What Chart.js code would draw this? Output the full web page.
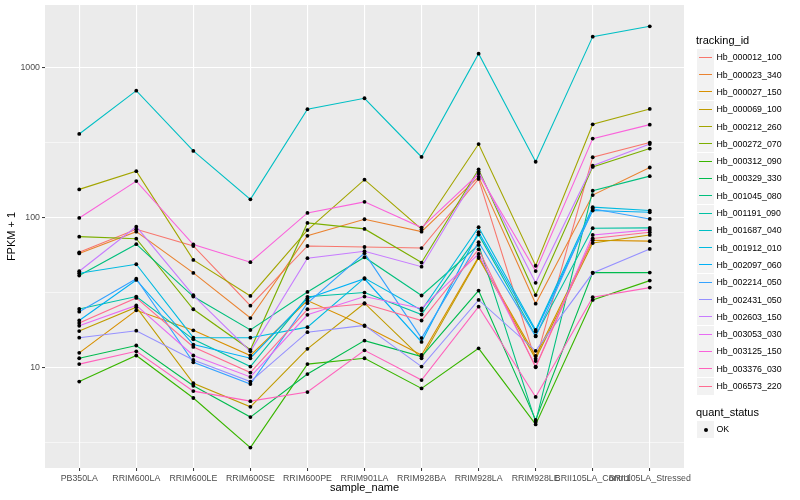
<!DOCTYPE html>
<html>
<head>
<meta charset="utf-8">
<script src="https://cdn.jsdelivr.net/npm/chart.js@4.4.1/dist/chart.umd.min.js"></script>
<style>
  body { margin: 0; background: #fff; font-family: "Liberation Sans", Arial, sans-serif; }
  #wrap { position: relative; width: 800px; height: 500px; }
  .lg { position: absolute; white-space: nowrap; color: #000; }
  .lg-title { font-size: 11px; line-height: 13px; }
  .lg-key { position: absolute; width: 17px; height: 17px; background: #f2f2f2; }
  .lg-line { position: absolute; left: 2px; width: 13px; top: 8px; height: 1px; }
  .lg-dot { position: absolute; left: 6.5px; top: 6.5px; width: 4px; height: 4px; border-radius: 50%; background: #000; }
  .lg-text { font-size: 8.8px; line-height: 10px; }
</style>
</head>
<body>
<div id="wrap">
  <canvas id="chart" width="800" height="500"></canvas>
  <div id="legend"></div>
</div>
<script>
// samples on the x axis
const sampleNames = ["PB350LA", "RRIM600LA", "RRIM600LE", "RRIM600SE", "RRIM600PE", "RRIM901LA",
  "RRIM928BA", "RRIM928LA", "RRIM928LE", "BRII105LA_Control", "BRII105LA_Stressed"];

const trackingIds = ["Hb_000012_100", "Hb_000023_340", "Hb_000027_150", "Hb_000069_100", "Hb_000212_260",
  "Hb_000272_070", "Hb_000312_090", "Hb_000329_330", "Hb_001045_080", "Hb_001191_090", "Hb_001687_040",
  "Hb_001912_010", "Hb_002097_060", "Hb_002214_050", "Hb_002431_050", "Hb_002603_150", "Hb_003053_030",
  "Hb_003125_150", "Hb_003376_030", "Hb_006573_220"];

// ggplot default hue palette for 20 groups
const seriesColors = ["#F8766D", "#EA8331", "#D89000", "#C09B00", "#A3A500", "#7CAE00", "#39B600",
  "#00BB4E", "#00BF7D", "#00C1A3", "#00BFC4", "#00BAE0", "#00B0F6", "#35A2FF", "#9590FF", "#C77CFF",
  "#E76BF3", "#FA62DB", "#FF62BC", "#FF6C91"];

// FPKM + 1, one value per sample
const hb000012 = [59, 84, 65, 26, 65, 64, 63, 182, 11.1, 254, 318];
const hb000023 = [58, 81, 43, 21.5, 76, 98, 81, 188, 26.8, 142, 217];
const hb000027 = [12.6, 24.2, 17.8, 12.1, 28.1, 19.0, 12.2, 55, 12.0, 71, 70];
const hb000069 = [17.6, 25.4, 7.9, 5.5, 13.4, 27, 11.6, 54, 11.5, 68, 77];
const hb000212 = [155, 205, 52.5, 30.2, 83, 180, 84, 311, 48, 421, 533];
const hb000272 = [75, 72.7, 24.6, 13.2, 92.6, 84.5, 50.4, 211, 30.6, 219, 290];
const hb000312 = [8.1, 12.1, 6.3, 2.94, 10.6, 11.6, 7.3, 13.5, 4.2, 28.4, 38.2];
const hb000329 = [11.6, 14.1, 7.6, 4.7, 9.1, 15.2, 11.9, 32.8, 4.5, 43.2, 43.2];
const hb001045 = [41.3, 66.8, 29.9, 17.9, 32.1, 54.7, 30.4, 66.1, 4.35, 152, 190];
const hb001191 = [24.7, 29.9, 15.5, 10.2, 29.8, 31.8, 22.7, 77.4, 16.4, 85.4, 85.8];
const hb001687 = [363, 706, 280, 133, 531, 628, 255, 1245, 237, 1618, 1896];
const hb001912 = [42.8, 49.1, 15.9, 15.9, 18.7, 39.7, 24.2, 86.7, 17.9, 118, 112];
const hb002097 = [20.7, 38.6, 14.3, 11.6, 29.0, 39.3, 14.9, 80.3, 17.5, 112, 109];
const hb002214 = [23.7, 39.3, 10.9, 7.8, 27, 58.2, 15.8, 68.9, 16.2, 115, 98.5];
const hb002431 = [15.9, 17.7, 11.3, 8.1, 17.3, 19.2, 10.2, 28.4, 13.0, 42.9, 62.1];
const hb002603 = [44.1, 87.5, 30.5, 12.9, 53.9, 60, 47.3, 204, 36.9, 223, 311];
const hb003053 = [19.1, 26.1, 12.1, 8.7, 22.6, 29.9, 24.9, 57.5, 10.2, 77, 83.2];
const hb003125 = [100, 176, 66.5, 50.7, 108, 128, 86.3, 197, 44.2, 338, 419];
const hb003376 = [10.6, 12.9, 7.0, 6.0, 6.9, 13.1, 8.3, 25.6, 6.4, 29.6, 34.3];
const hb006573 = [19.9, 29.3, 13.8, 9.3, 24.6, 26.8, 20.7, 61.8, 10.1, 73, 80.3];

const seriesValues = [hb000012, hb000023, hb000027, hb000069, hb000212, hb000272, hb000312, hb000329,
  hb001045, hb001191, hb001687, hb001912, hb002097, hb002214, hb002431, hb002603, hb003053, hb003125,
  hb003376, hb006573];

// y ticks: labelled decades plus ggplot minor breaks halfway in log space
const yMajor = [10, 100, 1000];
const yMinor = [3.1623, 31.623, 316.23];

const isMajor = (v) => yMajor.some((m) => Math.abs(m - v) < 1e-6);

// grey panel behind the grid
const panelBg = {
  id: "panelBg",
  beforeDraw(chart) {
    const { ctx, chartArea: a } = chart;
    ctx.save();
    ctx.fillStyle = "#EBEBEB";
    ctx.fillRect(a.left, a.top, a.right - a.left, a.bottom - a.top);
    ctx.restore();
  },
};

const lineSets = seriesValues.map((vals, i) => ({
  type: "line",
  label: trackingIds[i],
  data: vals.map((v, j) => ({ x: j, y: v })),
  borderColor: seriesColors[i],
  borderWidth: 1.1,
  pointRadius: 0,
  tension: 0,
  order: 100 - i,
}));

// all points drawn on top of the lines, like geom_point after geom_line
const pointSet = {
  type: "scatter",
  label: "OK",
  data: seriesValues.flatMap((vals) => vals.map((v, j) => ({ x: j, y: v }))),
  backgroundColor: "#000",
  borderWidth: 0,
  pointRadius: 1.9,
  order: 0,
};

const axisFont = { family: "'Liberation Sans', Arial, sans-serif", size: 8.8 };
const titleFont = { family: "'Liberation Sans', Arial, sans-serif", size: 11 };

new Chart(document.getElementById("chart").getContext("2d"), {
  type: "line",
  data: { datasets: [...lineSets, pointSet] },
  plugins: [panelBg],
  options: {
    responsive: false,
    animation: false,
    events: [],
    layout: { padding: { left: 0, right: 116, top: 5, bottom: 0 } },
    plugins: { legend: { display: false }, tooltip: { enabled: false } },
    scales: {
      x: {
        type: "linear",
        min: -0.6,
        max: 10.6,
        afterBuildTicks: (s) => { s.ticks = sampleNames.map((n, i) => ({ value: i })); },
        afterFit: (s) => { s.height = 32; s.paddingLeft = 0; s.paddingRight = 0; },
        ticks: {
          autoSkip: false, maxRotation: 0, minRotation: 0, padding: 2,
          color: "#4D4D4D", font: axisFont,
          callback: (v) => sampleNames[v],
        },
        grid: { color: "#fff", lineWidth: 1.1, tickColor: "#333", tickLength: 3, tickWidth: 1 },
        border: { display: false },
        title: { display: true, text: "sample_name", color: "#000", font: titleFont, padding: { top: 0, bottom: 5 } },
      },
      y: {
        type: "logarithmic",
        min: 2.15,
        max: 2630,
        afterBuildTicks: (s) => {
          s.ticks = [...yMinor, ...yMajor].sort((a, b) => a - b).map((v) => ({ value: v }));
        },
        afterFit: (s) => { s.width = 45; s.paddingTop = 0; s.paddingBottom = 0; },
        ticks: {
          autoSkip: false, padding: 2, color: "#4D4D4D", font: axisFont,
          callback: (v) => (isMajor(v) ? String(v) : ""),
        },
        grid: {
          color: "#fff",
          lineWidth: (c) => (isMajor(c.tick.value) ? 1.1 : 0.55),
          tickColor: (c) => (isMajor(c.tick.value) ? "#333" : "rgba(0,0,0,0)"),
          tickLength: 3,
          tickWidth: 1,
        },
        border: { display: false },
        title: { display: true, text: "FPKM + 1", color: "#000", font: titleFont, padding: { top: 5, bottom: 0 } },
      },
    },
  },
});

// legend, laid out like ggplot's guide boxes
const legend = document.getElementById("legend");
function addEl(cls, left, top, html) {
  const d = document.createElement("div");
  d.className = cls;
  d.style.left = left + "px";
  d.style.top = Math.round(top) + "px";
  if (html) d.innerHTML = html;
  legend.appendChild(d);
  return d;
}
addEl("lg lg-title", 696, 34, "tracking_id");
trackingIds.forEach((id, i) => {
  const cy = 57.3 + i * 17.3;
  const key = addEl("lg lg-key", 697, cy - 8.5);
  const ln = document.createElement("div");
  ln.className = "lg-line";
  ln.style.background = seriesColors[i];
  key.appendChild(ln);
  addEl("lg lg-text", 716.5, cy - 5, id);
});
addEl("lg lg-title", 696, 406, "quant_status");
const okKey = addEl("lg lg-key", 697, 429.3 - 8.5);
const dot = document.createElement("div");
dot.className = "lg-dot";
okKey.appendChild(dot);
addEl("lg lg-text", 716.5, 429.3 - 5, "OK");
</script>
</body>
</html>
